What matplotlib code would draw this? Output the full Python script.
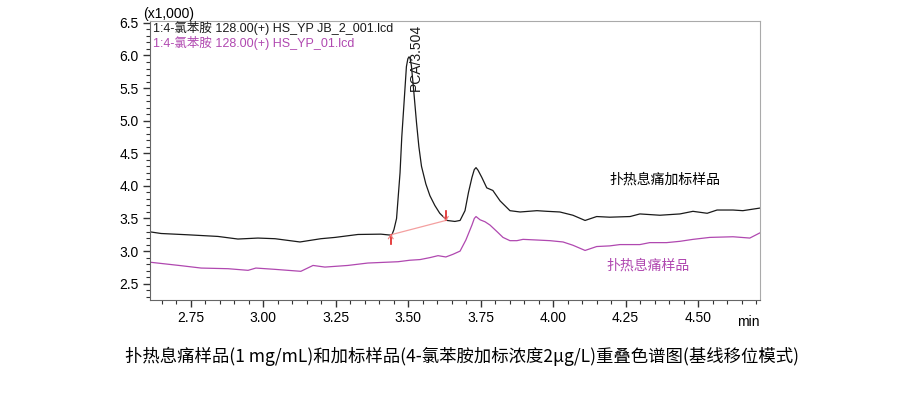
import matplotlib
matplotlib.use("Agg")
import matplotlib.pyplot as plt
from matplotlib.ticker import MultipleLocator
from matplotlib.transforms import blended_transform_factory

plt.rcParams["font.family"] = ["Liberation Sans", "Noto Sans CJK SC", "DejaVu Sans"]

# spiked sample trace (x1,000 counts vs min)
spiked_t = [2.603, 2.648, 2.741, 2.844, 2.913, 2.982, 3.041, 3.127, 3.199, 3.248,
            3.327, 3.406, 3.437, 3.444, 3.451, 3.460, 3.466, 3.472, 3.478, 3.485,
            3.494, 3.499, 3.503, 3.507, 3.511, 3.519, 3.529, 3.537, 3.546, 3.561,
            3.575, 3.592, 3.609, 3.634, 3.661, 3.679, 3.696, 3.708, 3.720, 3.728,
            3.734, 3.741, 3.754, 3.771, 3.792, 3.817, 3.851, 3.886, 3.944, 3.979,
            4.023, 4.068, 4.110, 4.150, 4.195, 4.265, 4.299, 4.368, 4.437, 4.482,
            4.531, 4.565, 4.620, 4.654, 4.713]
spiked_v = [3.30, 3.27, 3.25, 3.225, 3.185, 3.20, 3.19, 3.14, 3.19, 3.21,
            3.255, 3.26, 3.246, 3.25, 3.33, 3.50, 3.85, 4.20, 4.75, 5.22,
            5.83, 5.95, 5.98, 5.95, 5.85, 5.47, 4.96, 4.60, 4.30, 4.03,
            3.85, 3.70, 3.58, 3.47, 3.455, 3.47, 3.62, 3.90, 4.13, 4.25,
            4.28, 4.24, 4.13, 3.97, 3.93, 3.77, 3.62, 3.60, 3.62, 3.61,
            3.60, 3.55, 3.47, 3.53, 3.52, 3.53, 3.57, 3.55, 3.57, 3.61,
            3.58, 3.63, 3.63, 3.62, 3.66]

# unspiked sample trace
sample_t = [2.603, 2.718, 2.786, 2.879, 2.948, 2.975, 3.041, 3.130, 3.172, 3.213,
            3.292, 3.361, 3.465, 3.506, 3.541, 3.575, 3.603, 3.630, 3.654, 3.679,
            3.699, 3.720, 3.728, 3.734, 3.748, 3.765, 3.782, 3.806, 3.827, 3.851,
            3.875, 3.896, 3.944, 3.989, 4.034, 4.068, 4.110, 4.150, 4.195, 4.230,
            4.299, 4.333, 4.391, 4.437, 4.482, 4.540, 4.620, 4.678, 4.713]
sample_v = [2.833, 2.776, 2.74, 2.73, 2.705, 2.74, 2.72, 2.69, 2.78, 2.755,
            2.78, 2.817, 2.837, 2.86, 2.87, 2.90, 2.93, 2.91, 2.95, 3.00,
            3.17, 3.40, 3.50, 3.53, 3.48, 3.45, 3.40, 3.30, 3.21, 3.16,
            3.16, 3.18, 3.17, 3.16, 3.14, 3.09, 3.01, 3.07, 3.08, 3.10,
            3.10, 3.13, 3.13, 3.15, 3.18, 3.21, 3.22, 3.20, 3.28]

# integration of PCA peak
peak_start = (3.440, 3.25)
peak_end = (3.630, 3.47)
peak_label = "PCA/3.504"

legend_lines = ["1:4-氯苯胺 128.00(+) HS_YP JB_2_001.lcd",
                "1:4-氯苯胺 128.00(+) HS_YP_01.lcd"]
black = "#1a1a1a"
purple = "#b048b0"

fig = plt.figure(figsize=(9, 3.95), dpi=100)
ax = fig.add_axes([0.1667, 0.2405, 0.6777, 0.7065])

ax.plot(spiked_t, spiked_v, color=black, lw=0.9)
ax.plot(sample_t, sample_v, color=purple, lw=0.9)

# baseline + start/end markers
ax.plot([peak_start[0], peak_end[0]], [peak_start[1], peak_end[1]],
        color="#f4a0a0", lw=0.9)
ax.plot([peak_start[0]] * 2, [peak_start[1] - 0.14, peak_start[1]], color="#e02020", lw=1.2)
ax.plot([peak_start[0] - 0.008, peak_start[0], peak_start[0] + 0.008],
        [peak_start[1] - 0.06, peak_start[1], peak_start[1] - 0.06], color="#f08080", lw=0.8)
ax.plot([peak_end[0]] * 2, [peak_end[1], peak_end[1] + 0.14], color="#e02020", lw=1.2)
ax.plot([peak_end[0] - 0.008, peak_end[0], peak_end[0] + 0.008],
        [peak_end[1] + 0.06, peak_end[1], peak_end[1] + 0.06], color="#f08080", lw=0.8)

ax.text(3.527, 5.45, peak_label, rotation=90, ha="center", va="bottom",
        fontsize=10, color=black)

ax.set_xlim(2.610, 4.713)
ax.set_ylim(2.25, 6.53)
ax.set_xticks([2.75, 3.0, 3.25, 3.5, 3.75, 4.0, 4.25, 4.5])
ax.xaxis.set_minor_locator(MultipleLocator(0.05))
ax.yaxis.set_major_locator(MultipleLocator(0.5))
ax.yaxis.set_minor_locator(MultipleLocator(0.1))
ax.xaxis.set_major_formatter(plt.FuncFormatter(lambda v, p: f"{v:.2f}"))
ax.yaxis.set_major_formatter(plt.FuncFormatter(lambda v, p: f"{v:.1f}"))
ax.tick_params(axis="both", which="major", direction="out", length=5, width=1,
               labelsize=10, color="#333333", pad=3)
ax.tick_params(axis="both", which="minor", direction="out", length=3, width=0.8,
               color="#333333")

for side in ["left", "bottom"]:
    ax.spines[side].set_color("#666666")
for side in ["top", "right"]:
    ax.spines[side].set_color("#aaaaaa")

trans = blended_transform_factory(ax.transData, ax.transAxes)
ax.text(4.672, -0.055, "min", transform=trans, ha="center", va="top", fontsize=10)
ax.text(-0.012, 1.0, "(x1,000)", transform=ax.transAxes, ha="left", va="bottom",
        fontsize=10)

ax.text(0.005, 0.975, legend_lines[0], transform=ax.transAxes, ha="left", va="center",
        fontsize=9, color=black)
ax.text(0.005, 0.921, legend_lines[1], transform=ax.transAxes, ha="left", va="center",
        fontsize=9, color=purple)

ax.text(4.386, 4.09, "扑热息痛加标样品", ha="center", va="center", fontsize=10,
        color="black", family=["Noto Sans CJK SC"])
ax.text(4.327, 2.78, "扑热息痛样品", ha="center", va="center", fontsize=10,
        color=purple, family=["Noto Sans CJK SC"])

fig.text(0.513, 0.098, "扑热息痛样品(1 mg/mL)和加标样品(4-氯苯胺加标浓度2μg/L)重叠色谱图(基线移位模式)",
         ha="center", va="center", fontsize=12.5, family=["Noto Sans CJK SC", "DejaVu Sans"])

fig.savefig("out.png", dpi=100)
